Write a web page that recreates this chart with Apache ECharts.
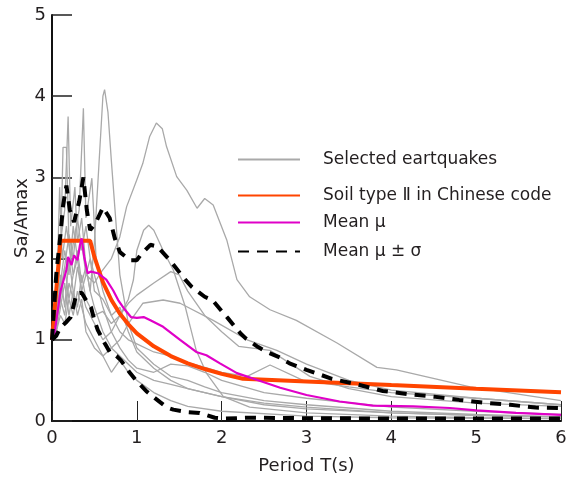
<!DOCTYPE html>
<html>
<head>
<meta charset="utf-8">
<script src="https://cdn.jsdelivr.net/npm/echarts@6/dist/echarts.min.js"></script>
<style>
  html, body { margin: 0; padding: 0; background: #fff; }
  #main { width: 569px; height: 484px; }
</style>
</head>
<body>
<div id="main"></div>
<script>
// 读图得到的数据 (T, Sa/Amax)
const xTicks = [0, 1, 2, 3, 4, 5, 6];
const yTicks = [0, 1, 2, 3, 4, 5];

// 地震记录反应谱
const rec1 = [[0,1],[0.05,1.3],[0.1,1.6],[0.15,1.9],[0.2,1.5],[0.25,1.8],[0.3,2.1],[0.35,1.7],[0.4,1.9],[0.45,1.6],[0.5,2.2],[0.55,3.1],[0.6,4.0],[0.62,4.08],[0.66,3.8],[0.7,3.2],[0.75,2.5],[0.8,1.8],[0.9,1.2],[1.0,0.9],[1.2,0.7],[1.4,0.55],[1.6,0.5],[1.8,0.42],[2.0,0.35],[2.5,0.25],[3,0.2],[4,0.12],[5,0.08],[6,0.05]];
const rec2 = [[0,1],[0.05,1.2],[0.1,1.5],[0.15,1.3],[0.2,1.7],[0.25,1.5],[0.3,1.9],[0.35,1.6],[0.4,1.8],[0.5,1.7],[0.57,1.82],[0.7,2.0],[0.8,2.27],[0.88,2.64],[1.0,2.97],[1.07,3.17],[1.15,3.5],[1.23,3.67],[1.3,3.6],[1.35,3.38],[1.47,3.01],[1.59,2.84],[1.71,2.62],[1.8,2.74],[1.9,2.66],[2.06,2.23],[2.18,1.74],[2.33,1.53],[2.57,1.37],[2.88,1.24],[3.36,0.96],[3.83,0.66],[4.06,0.63],[4.93,0.42],[6,0.25]];
const rec3 = [[0,1],[0.05,1.1],[0.1,1.4],[0.15,1.7],[0.2,1.3],[0.25,1.6],[0.3,1.4],[0.35,1.8],[0.4,1.5],[0.5,1.3],[0.6,1.35],[0.7,1.2],[0.8,1.3],[0.9,1.5],[0.96,1.74],[1.0,2.1],[1.08,2.35],[1.14,2.41],[1.2,2.35],[1.31,2.1],[1.43,1.86],[1.57,1.41],[1.63,1.16],[1.7,0.87],[1.82,0.59],[2.02,0.3],[2.33,0.17],[3,0.1],[4,0.06],[5,0.04],[6,0.03]];
const rec4 = [[0,1],[0.05,1.4],[0.1,2.0],[0.13,3.37],[0.17,3.37],[0.2,2.2],[0.25,1.8],[0.3,2.0],[0.35,1.6],[0.4,1.4],[0.5,1.2],[0.6,1.0],[0.7,1.1],[0.8,1.3],[0.9,1.45],[1.0,1.55],[1.2,1.7],[1.4,1.84],[1.5,1.8],[1.6,1.6],[1.8,1.3],[2.0,1.1],[2.2,0.92],[2.57,0.87],[3.04,0.55],[3.5,0.4],[4,0.3],[5,0.22],[6,0.18]];
const rec5 = [[0,1],[0.05,1.2],[0.1,1.8],[0.15,1.4],[0.2,2.0],[0.25,1.6],[0.3,1.3],[0.35,1.5],[0.4,1.1],[0.5,0.9],[0.6,0.8],[0.7,0.9],[0.8,1.0],[0.9,1.2],[1.07,1.45],[1.31,1.49],[1.51,1.45],[1.9,1.24],[2.3,1.0],[2.65,0.87],[3.0,0.7],[3.5,0.5],[4,0.38],[5,0.28],[6,0.2]];
const rec6 = [[0,1],[0.05,1.5],[0.1,2.2],[0.15,2.6],[0.19,3.75],[0.22,2.4],[0.27,2.88],[0.3,2.2],[0.35,2.5],[0.4,1.9],[0.45,1.6],[0.5,1.4],[0.6,1.1],[0.7,0.9],[0.8,0.8],[0.9,0.7],[1.0,0.6],[1.2,0.5],[1.4,0.45],[1.6,0.4],[2,0.3],[2.5,0.22],[3,0.17],[4,0.1],[5,0.07],[6,0.05]];
const rec7 = [[0,1],[0.05,1.3],[0.09,2.88],[0.12,2.0],[0.17,2.4],[0.22,2.0],[0.27,2.3],[0.32,2.6],[0.37,3.85],[0.4,2.5],[0.47,2.99],[0.52,2.0],[0.6,1.6],[0.7,1.3],[0.8,1.4],[0.9,1.1],[1.0,0.85],[1.2,0.65],[1.4,0.5],[1.6,0.4],[2.0,0.3],[2.5,0.2],[3,0.15],[4,0.1],[5,0.07],[6,0.05]];
const rec8 = [[0,1],[0.05,1.1],[0.1,1.3],[0.15,1.2],[0.2,1.5],[0.25,1.3],[0.3,1.6],[0.35,1.4],[0.4,1.2],[0.5,1.0],[0.6,0.8],[0.7,0.6],[0.8,0.75],[0.9,0.6],[1.0,0.5],[1.2,0.35],[1.4,0.25],[1.6,0.18],[2.0,0.12],[3,0.06],[4,0.04],[6,0.03]];
const rec9 = [[0,1],[0.05,1.3],[0.1,1.7],[0.15,2.1],[0.2,1.8],[0.25,2.4],[0.3,2.0],[0.35,2.2],[0.4,1.8],[0.45,2.0],[0.5,1.6],[0.6,1.5],[0.7,1.3],[0.8,1.1],[0.9,1.0],[1.0,0.95],[1.2,0.85],[1.4,0.8],[1.6,0.72],[1.8,0.66],[2.0,0.6],[2.3,0.55],[2.57,0.69],[2.96,0.5],[3.5,0.42],[4,0.35],[5,0.28],[6,0.2]];
const rec10 = [[0,1],[0.05,1.2],[0.1,1.5],[0.15,1.9],[0.2,2.3],[0.25,2.0],[0.3,2.5],[0.35,2.1],[0.4,2.4],[0.45,2.0],[0.5,1.8],[0.6,1.4],[0.7,1.1],[0.8,0.9],[0.9,0.75],[1.0,0.65],[1.2,0.6],[1.4,0.7],[1.6,0.68],[1.8,0.6],[2.0,0.5],[2.5,0.35],[3,0.28],[4,0.17],[5,0.12],[6,0.08]];
const records = [rec1, rec2, rec3, rec4, rec5, rec6, rec7, rec8, rec9, rec10];

// 规范反应谱 (II类场地)
const codeSpectrum = [[0,1.0],[0.1,2.22],[0.45,2.22],[0.5,2.02],[0.6,1.71],[0.7,1.49],[0.8,1.32],[0.9,1.19],[1.0,1.08],[1.2,0.92],[1.4,0.8],[1.6,0.71],[1.8,0.64],[2.0,0.58],[2.25,0.52],[3,0.487],[4,0.442],[5,0.398],[6,0.355]];

// 均值
const meanMu = [[0,1.0],[0.03,1.08],[0.1,1.6],[0.17,1.86],[0.19,2.02],[0.23,1.92],[0.26,2.04],[0.3,1.98],[0.33,2.17],[0.35,2.25],[0.38,2.02],[0.42,1.82],[0.46,1.84],[0.54,1.82],[0.64,1.74],[0.72,1.61],[0.78,1.49],[0.86,1.37],[0.93,1.28],[1.0,1.27],[1.08,1.28],[1.16,1.24],[1.31,1.16],[1.51,1.0],[1.7,0.85],[1.82,0.81],[1.98,0.71],[2.18,0.59],[2.49,0.48],[2.69,0.41],[3.0,0.32],[3.39,0.24],[3.78,0.19],[4.26,0.18],[4.69,0.16],[5.0,0.13],[5.47,0.1],[6,0.075]];

// 均值 ± 标准差
const meanPlusSigma = [[0,1.0],[0.05,1.8],[0.1,2.3],[0.13,2.65],[0.17,2.9],[0.21,2.6],[0.26,2.45],[0.32,2.7],[0.37,3.0],[0.41,2.6],[0.45,2.35],[0.52,2.45],[0.6,2.63],[0.68,2.5],[0.74,2.25],[0.8,2.08],[0.92,1.98],[1.0,1.98],[1.04,2.04],[1.16,2.17],[1.24,2.15],[1.39,1.98],[1.45,1.9],[1.57,1.74],[1.65,1.65],[1.8,1.53],[1.89,1.49],[2.02,1.33],[2.07,1.27],[2.22,1.08],[2.28,1.02],[2.43,0.91],[2.53,0.85],[2.69,0.78],[2.8,0.71],[3.0,0.63],[3.3,0.52],[3.6,0.45],[3.9,0.37],[4.2,0.33],[4.5,0.3],[4.8,0.26],[5.1,0.225],[5.4,0.2],[5.7,0.165],[6,0.16]];
const meanMinusSigma = [[0,1.0],[0.05,1.05],[0.1,1.15],[0.17,1.22],[0.22,1.28],[0.29,1.57],[0.35,1.58],[0.4,1.49],[0.46,1.4],[0.5,1.24],[0.54,1.12],[0.62,0.96],[0.68,0.85],[0.76,0.8],[0.81,0.75],[0.92,0.59],[0.99,0.5],[1.12,0.36],[1.19,0.3],[1.35,0.17],[1.43,0.14],[1.6,0.11],[1.74,0.1],[1.92,0.04],[2.04,0.03],[2.3,0.04],[3,0.035],[4,0.03],[5,0.03],[6,0.03]];

const myChart = echarts.init(document.getElementById('main'));
const fontFamily = '"DejaVu Sans", "Liberation Sans", sans-serif';
const textColor = '#231f20';

const seriesData = [];
records.forEach((rec) => {
  seriesData.push({
    name: 'Selected eartquakes',
    type: 'line',
    data: rec,
    symbol: 'none',
    itemStyle: { color: '#a9a9a9' },
    lineStyle: { color: '#a9a9a9', width: 1.3 },
    z: 2,
  });
});
seriesData.push({
  name: 'Soil type Ⅱ in Chinese code',
  type: 'line',
  data: codeSpectrum,
  symbol: 'none',
  itemStyle: { color: '#ff4500' },
  lineStyle: { color: '#ff4500', width: 4 },
  z: 3,
});
seriesData.push({
  name: 'Mean μ',
  type: 'line',
  data: meanMu,
  symbol: 'none',
  itemStyle: { color: '#e000c8' },
  lineStyle: { color: '#e000c8', width: 2.2 },
  z: 4,
});
[meanPlusSigma, meanMinusSigma].forEach((d) => {
  seriesData.push({
    name: 'Mean μ ± σ',
    type: 'line',
    data: d,
    symbol: 'none',
    itemStyle: { color: '#000' },
    lineStyle: { color: '#000', width: 4, type: [11, 8] },
    z: 5,
  });
});

// 图例位置
const legendNames = ['Selected eartquakes', 'Soil type Ⅱ in Chinese code', 'Mean μ', 'Mean μ ± σ'];
const legendTops = [151, 187, 214, 243];
const legends = legendNames.map((n, i) => ({
  data: [n],
  left: 237,
  top: legendTops[i],
  orient: 'vertical',
  itemWidth: 62,
  itemHeight: 14,
  selectedMode: false,
  padding: 0,
  itemStyle: { opacity: 0 },
  textStyle: {
    fontFamily: fontFamily,
    fontSize: 17,
    color: textColor,
    padding: [0, 0, 0, 18],
  },
}));

const options = {
  animation: false,
  backgroundColor: '#fff',
  legend: legends,
  grid: {
    left: 52,
    right: 8,
    top: 15,
    bottom: 63,
    containLabel: false,
    outerBoundsMode: 'none',
  },
  xAxis: {
    type: 'value',
    min: xTicks[0],
    max: xTicks[xTicks.length - 1],
    interval: 1,
    name: 'Period T(s)',
    nameLocation: 'middle',
    nameGap: 36,
    nameTextStyle: { fontFamily: fontFamily, fontSize: 18, color: textColor },
    axisLine: { show: true, lineStyle: { color: '#111', width: 2 } },
    axisTick: { show: true, inside: true, length: 20, lineStyle: { color: '#222', width: 1 } },
    axisLabel: { fontFamily: fontFamily, fontSize: 18, color: textColor, margin: 8 },
    splitLine: { show: false },
  },
  yAxis: {
    type: 'value',
    min: yTicks[0],
    max: yTicks[yTicks.length - 1],
    interval: 1,
    name: 'Sa/Amax',
    nameLocation: 'middle',
    nameGap: 21,
    nameMoveOverlap: false,
    nameRotate: 90,
    nameTextStyle: { fontFamily: fontFamily, fontSize: 18, color: textColor },
    axisLine: { show: true, lineStyle: { color: '#111', width: 2 } },
    axisTick: { show: true, inside: true, length: 20, lineStyle: { color: '#222', width: 1.5 } },
    axisLabel: { fontFamily: fontFamily, fontSize: 18, color: textColor, margin: 6 },
    splitLine: { show: false },
  },
  series: seriesData,
};
myChart.setOption(options);
</script>
</body>
</html>
